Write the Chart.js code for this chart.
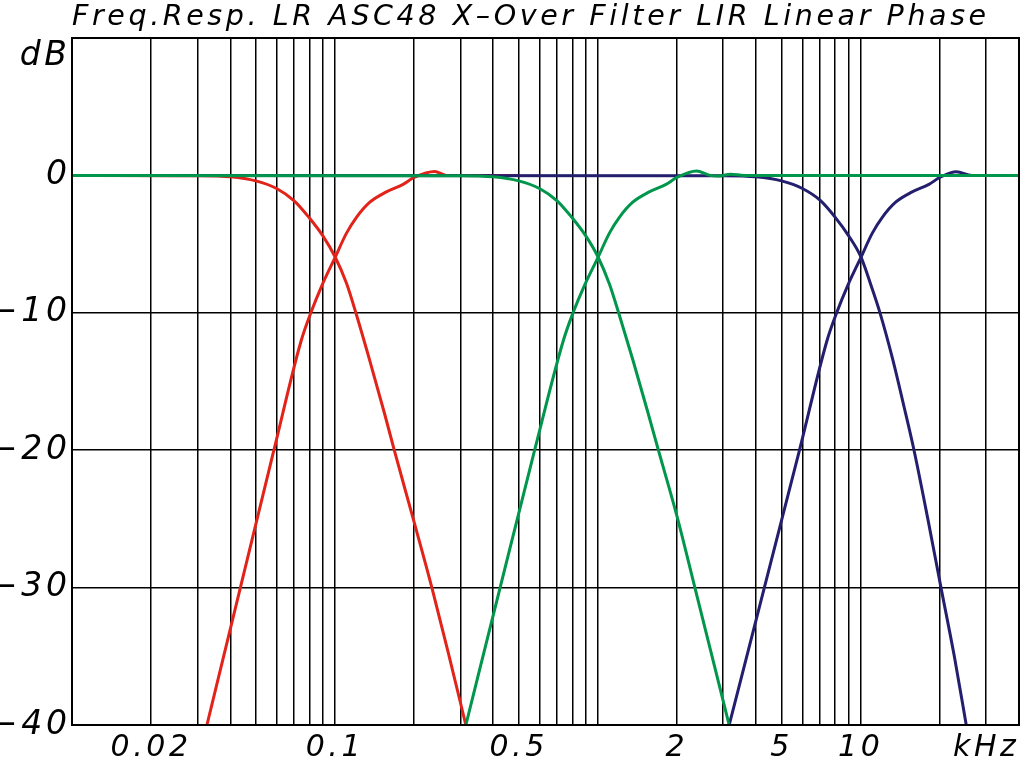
<!DOCTYPE html>
<html>
<head>
<meta charset="utf-8">
<script src="https://cdn.jsdelivr.net/npm/chart.js@4.4.1/dist/chart.umd.min.js"></script>
<style>
html,body{margin:0;padding:0;background:#fff;}
#wrap{width:1024px;height:760px;position:relative;}
</style>
</head>
<body>
<div id="wrap"><canvas id="c" width="1024" height="760"></canvas></div>
<script>
// ---- text ----
const TITLE = 'Freq.Resp. LR ASC48 X–Over Filter LIR Linear Phase';
const Y_UNIT = 'dB';

// ---- axes ----
const xGridValues = [0.01,0.02,0.03,0.04,0.05,0.06,0.07,0.08,0.09,
                     0.1,0.2,0.3,0.4,0.5,0.6,0.7,0.8,0.9,
                     1,2,3,4,5,6,7,8,9,
                     10,20,30,40];
const xLabelValues = [0.02, 0.1, 0.5, 2, 5, 10, 30];
const xLabelTexts  = ['0.02','0.1','0.5','2','5','10','kHz'];
const yTickValues  = [-40,-30,-20,-10,0,10];
const yTickTexts   = ['−40','−30','−20','−10','0',''];

// ---- series (frequency in kHz, level in dB) ----
const redLowFreq  = [0.01, 0.03, 0.04, 0.05, 0.06, 0.07, 0.08, 0.09, 0.1, 0.1107, 0.121, 0.1358, 0.1548, 0.1682, 0.1986, 0.2338, 0.272, 0.3148];
const redLowDb    = [0, -0.02, -0.1, -0.4, -0.95, -1.85, -3.1, -4.4, -5.9, -7.85, -10.2, -13.5, -17.4, -20, -25, -30, -35, -40];

const redHighFreq = [0.0326, 0.0437, 0.0586, 0.0745, 0.081, 0.0893, 0.1, 0.1107, 0.1208, 0.1358, 0.157, 0.1817, 0.2, 0.2398, 0.265, 0.35, 0.5];
const redHighDb   = [-40, -30, -20, -12, -10, -8, -6, -4.2, -3.05, -1.95, -1.2, -0.65, -0.15, 0.29, 0, 0, 0];

const greenLowFreq  = [0.01, 0.3, 0.4, 0.5, 0.6, 0.7, 0.8, 0.9, 1.0, 1.107, 1.2, 1.358, 1.548, 1.70, 2.0, 2.34, 2.72, 3.16];
const greenLowDb    = [0, -0.02, -0.1, -0.4, -0.95, -1.85, -3.1, -4.4, -5.9, -7.9, -10, -13.4, -17.2, -20, -24.8, -30, -35, -40];

const greenHighFreq = [0.3148, 0.425, 0.575, 0.74, 0.805, 0.89, 1.0, 1.107, 1.208, 1.358, 1.57, 1.817, 2.0, 2.375, 2.65, 2.85, 3.2, 3.6, 40];
const greenHighDb   = [-40, -30, -20, -12, -10, -8, -6, -4.2, -3.05, -1.95, -1.2, -0.65, -0.15, 0.32, 0.02, -0.05, 0.08, 0, 0];

const navyLowFreq  = [0.01, 3.0, 4, 5, 6, 7, 8, 9, 10, 10.9, 11.84, 13.2, 14.6, 15.95, 18.0, 20.2, 22.7, 25.2];
const navyLowDb    = [0, -0.02, -0.1, -0.4, -0.95, -1.8, -3.05, -4.4, -5.9, -7.9, -10, -13.3, -16.8, -20, -25, -30, -35, -40];

const navyHighFreq = [3.16, 4.3, 5.85, 7.45, 8.1, 8.93, 10, 11.07, 12.08, 13.58, 15.7, 18.17, 20, 23.1, 26.5, 40];
const navyHighDb   = [-40, -30, -20, -12, -10, -8, -6, -4.2, -3.05, -1.95, -1.2, -0.65, -0.15, 0.27, 0, 0];

// ---- style ----
const RED = '#e2231a', GREEN = '#00964b', NAVY = '#231f6e';
const FONT = 'DejaVu Sans';
const LETTER_SPACING = '3.6px';

function pts(f, d){ return f.map((x,i)=>({x:x, y:d[i]})); }
function ds(f, d, color){
  return {data: pts(f,d), borderColor: color, borderWidth: 3, pointRadius: 0,
          fill: false, cubicInterpolationMode: 'monotone'};
}

const spacingPlugin = {
  id: 'spacing',
  beforeUpdate(chart){ chart.ctx.letterSpacing = LETTER_SPACING; },
  beforeLayout(chart){ chart.ctx.letterSpacing = LETTER_SPACING; },
  beforeDraw(chart){ chart.ctx.letterSpacing = LETTER_SPACING; }
};
const framePlugin = {
  id: 'frame',
  afterDraw(chart){
    const a = chart.chartArea, c = chart.ctx;
    c.save();
    c.strokeStyle = '#000';
    c.lineWidth = 2;
    c.strokeRect(a.left, a.top, a.right - a.left, a.bottom - a.top);
    c.restore();
  }
};

new Chart(document.getElementById('c'), {
  type: 'line',
  data: {
    datasets: [
      ds(greenHighFreq, greenHighDb, GREEN),
      ds(greenLowFreq,  greenLowDb,  GREEN),
      ds(navyHighFreq,  navyHighDb,  NAVY),
      ds(navyLowFreq,   navyLowDb,   NAVY),
      ds(redLowFreq,    redLowDb,    RED),
      ds(redHighFreq,   redHighDb,   RED)
    ]
  },
  options: {
    responsive: false,
    animation: false,
    events: [],
    layout: {padding: {left: 0, right: 3, top: 0, bottom: 0}},
    plugins: {
      legend: {display: false},
      tooltip: {enabled: false},
      title: {
        display: true, text: TITLE, align: 'start', fullSize: false,
        color: '#000',
        font: {family: FONT, size: 28.5, style: 'italic', weight: 'normal', lineHeight: 0.66},
        padding: {top: 8, bottom: 11.2}
      }
    },
    scales: {
      x: {
        type: 'logarithmic',
        min: 0.01, max: 40,
        afterBuildTicks: (s) => { s.ticks = xGridValues.map(v => ({value: v})); },
        afterFit: (s) => { s.height = 35; },
        grid: {color: '#000', lineWidth: 1.5, drawTicks: false},
        border: {display: false},
        ticks: {
          autoSkip: false, maxRotation: 0, minRotation: 0, padding: 5,
          color: '#000',
          font: {family: FONT, size: 30, style: 'italic'},
          callback: (v) => { const i = xLabelValues.indexOf(v); return i >= 0 ? xLabelTexts[i] : ''; }
        }
      },
      y: {
        type: 'linear',
        min: -40, max: 10,
        afterBuildTicks: (s) => { s.ticks = yTickValues.map(v => ({value: v})); },
        afterFit: (s) => { s.width = 72; },
        grid: {color: '#000', lineWidth: 1.5, drawTicks: false},
        border: {display: false},
        ticks: {
          padding: 1.5, color: '#000',
          font: {family: FONT, size: 33, style: 'italic', lineHeight: 1.1},
          callback: (v) => {
            const i = yTickValues.indexOf(v);
            if (v === 10) return ['', Y_UNIT];
            return i >= 0 ? yTickTexts[i] : '';
          }
        }
      }
    }
  },
  plugins: [spacingPlugin, framePlugin]
});
</script>
</body>
</html>
